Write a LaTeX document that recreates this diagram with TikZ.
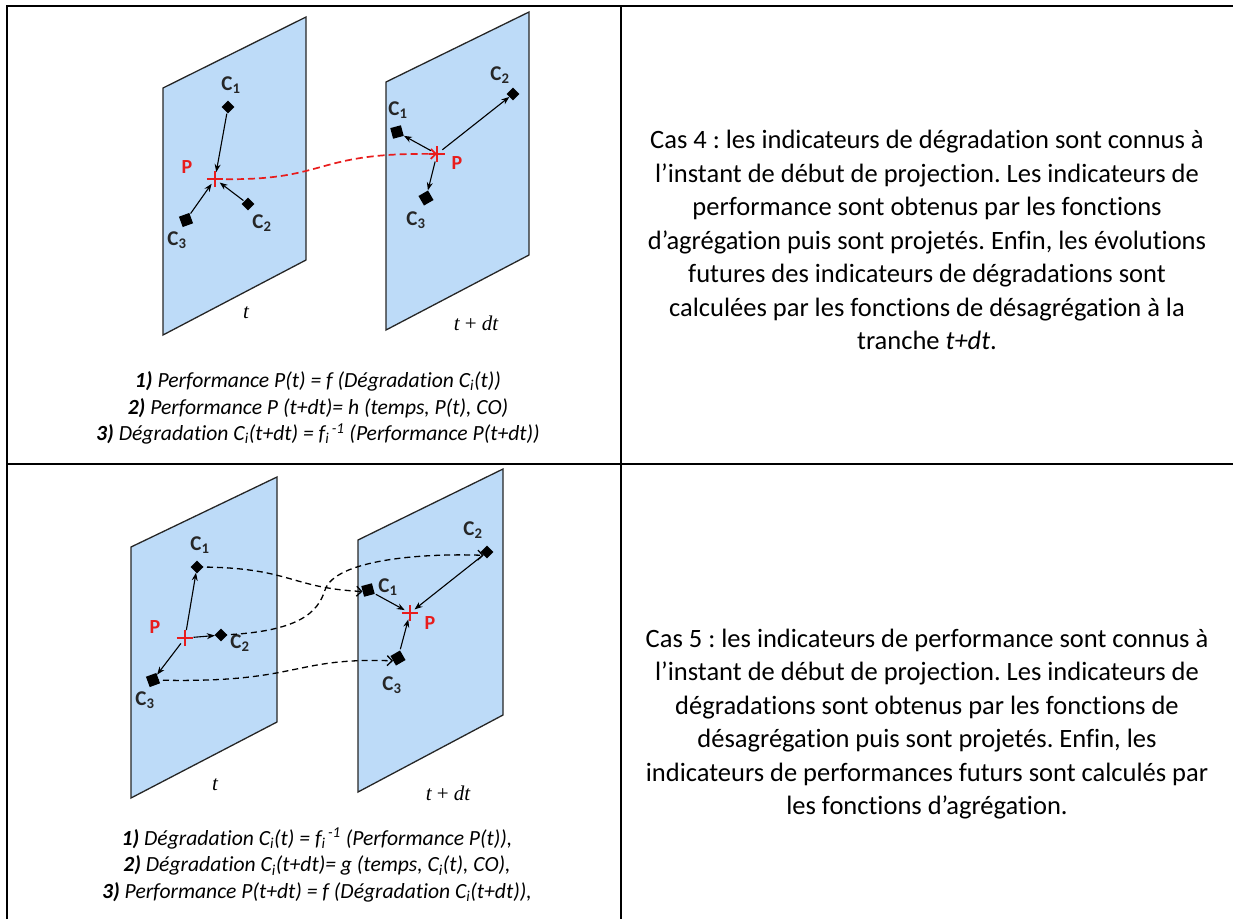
\documentclass[tikz,border=0pt]{standalone}
\usepackage{fontspec}
\setmainfont{Carlito}[Ligatures=NoCommon]
\newfontfamily\tms{Liberation Serif}
\usetikzlibrary{arrows.meta,shapes.misc}
\definecolor{planeblue}{RGB}{189,219,248}
\definecolor{pred}{RGB}{232,28,28}
\newcommand{\Ci}{C\textsubscript{i}}
\newcommand{\fim}{f\textsubscript{i}\textsuperscript{\,-1}}
\newcommand{\Cl}[1]{C\textsubscript{#1}}
\frenchspacing
\begin{document}
\begin{tikzpicture}[x=1pt,y=-1pt,
  plane/.style={fill=planeblue,draw=black!85,line width=1.3pt,line join=miter},
  dia/.style={fill=black,inner sep=0pt,minimum size=9pt,rotate=45},
  sq/.style={fill=black,inner sep=0pt,minimum size=11pt},
  ptc/.style={cross out,draw=pred,line width=1.5pt,minimum size=10pt,inner sep=0pt,rotate=45},
  clab/.style={font=\fontsize{21}{24}\selectfont\bfseries,text=black!85,inner sep=0pt},
  plab/.style={font=\fontsize{20}{24}\selectfont\bfseries,text=pred,inner sep=0pt},
  tlab/.style={font=\fontsize{21}{24}\selectfont\tms\itshape,inner sep=0pt},
  sarr/.style={-{Stealth[length=8pt,width=6pt]},line width=1.1pt,shorten <=1pt},
  darr/.style={-{Straight Barb[length=5pt,width=10pt]},line width=1.3pt,dash pattern=on 6pt off 4pt},
  rarr/.style={darr,draw=pred,line width=1.7pt,dash pattern=on 7pt off 4pt},
  formula/.style={font=\fontsize{21.6}{26.5}\selectfont\itshape,align=center,inner sep=0pt},
  body/.style={font=\fontsize{26.5}{33.5}\selectfont,align=center,inner sep=0pt},
  grid/.style={line width=2pt}
]
\useasboundingbox (0,0) rectangle (1233,919);
% table
\draw[grid] (7,919) -- (7,6) -- (1233,6);
\draw[grid] (7,464) -- (1233,464);
\draw[grid] (621,6) -- (621,919);

% ===== top panel =====
\filldraw[plane] (163,88) -- (306,17) -- (306,260) -- (163,335) -- cycle;
\filldraw[plane] (386,82) -- (529,12) -- (529,255) -- (386,330) -- cycle;

\node[dia] (c1a) at (228,107) {};
\node[dia] (c2a) at (248,204) {};
\node[sq,rotate=20] (c3a) at (186,220) {};
\node[ptc] (pa) at (215,179) {};
\node[clab] (l1a) at (231,85) {\Cl{1}};
\node[clab] (l2a) at (262,223) {\Cl{2}};
\node[clab] (l3a) at (177,240) {\Cl{3}};
\node[plab] (lpa) at (187,167) {P};
\node[tlab] (ta) at (246,313) {t};

\node[dia] (c2b) at (513,94) {};
\node[sq,rotate=15] (c1b) at (397,132) {};
\node[sq,rotate=30] (c3b) at (426,198) {};
\node[ptc] (pb) at (437,154) {};
\node[clab] (l2b) at (500,75) {\Cl{2}};
\node[clab] (l1b) at (398,110) {\Cl{1}};
\node[clab] (l3b) at (416,220) {\Cl{3}};
\node[plab] (lpb) at (457,163) {P};
\node[tlab] (tb) at (476,323) {t {\upshape +} dt};

\draw[sarr] (c1a) -- (pa);
\draw[sarr] (c3a) -- (pa);
\draw[sarr] (c2a) -- (pa);
\draw[sarr] (pb) -- (c2b);
\draw[sarr] (pb) -- (c1b);
\draw[sarr] (pb) -- (c3b);
\draw[rarr] (pa.center) .. controls (330,182) and (310,152) .. (pb.center);

\node[formula] (fa) at (318,408) {{\bfseries 1)} Performance P(t) = f (Dégradation \Ci(t))\\
{\bfseries 2)} Performance P (t+dt)= h (temps, P(t), CO)\\
{\bfseries 3)} Dégradation \Ci(t+dt) = \fim{} (Performance P(t+dt))};

\node[body] (ta1) at (927,240) {Cas 4 : les indicateurs de dégradation sont connus à\\
l’instant de début de projection. Les indicateurs de\\
performance sont obtenus par les fonctions\\
d’agrégation puis sont projetés. Enfin, les évolutions\\
futures des indicateurs de dégradations sont\\
calculées par les fonctions de désagrégation à la\\
tranche \textit{t+dt}.};

% ===== bottom panel =====
\filldraw[plane] (131,547) -- (277,477) -- (277,722) -- (131,798) -- cycle;
\filldraw[plane] (358,540) -- (503,469) -- (503,715) -- (358,792) -- cycle;

\node[dia] (c1c) at (197,567) {};
\node[dia] (c2c) at (221,635) {};
\node[sq,rotate=20] (c3c) at (153,680) {};
\node[ptc] (pc) at (185,638) {};
\node[clab] (l1c) at (200,545) {\Cl{1}};
\node[clab] (l2c) at (240,643) {\Cl{2}};
\node[clab] (l3c) at (145,700) {\Cl{3}};
\node[plab] (lpc) at (155,627) {P};
\node[tlab] (tc) at (215,785) {t};

\node[dia] (c2d) at (487,552) {};
\node[sq,rotate=15] (c1d) at (368,590) {};
\node[sq,rotate=30] (c3d) at (398,658) {};
\node[ptc] (pd) at (410,613) {};
\node[clab] (l2d) at (473,530) {\Cl{2}};
\node[clab] (l1d) at (388,587) {\Cl{1}};
\node[clab] (l3d) at (392,685) {\Cl{3}};
\node[plab] (lpd) at (430,623) {P};
\node[tlab] (td) at (448,793) {t {\upshape +} dt};

\draw[sarr] (pc) -- (c1c);
\draw[sarr] (pc) -- (c2c);
\draw[sarr] (pc) -- (c3c);
\draw[sarr] (c1d) -- (pd);
\draw[sarr] (c2d) -- (pd);
\draw[sarr] (c3d) -- (pd);

\draw[darr] (c1c.center) .. controls (290,567) and (290,588) .. (c1d.west);
\draw[darr] (c2c.center) .. controls (300,632) and (318,612) .. (325,590)
   .. controls (335,560) and (420,553) .. (c2d.west);
\draw[darr] (c3c.center) .. controls (300,684) and (290,657) .. (c3d.west);

\node[formula] (fb) at (317,865) {{\bfseries 1)} Dégradation \Ci(t) = \fim{} (Performance P(t)),\\
{\bfseries 2)} Dégradation \Ci(t+dt)= g (temps, \Ci(t), CO),\\
{\bfseries 3)} Performance P(t+dt) = f (Dégradation \Ci(t+dt)),};

\node[body] (tb1) at (927,724) {Cas 5 : les indicateurs de performance sont connus à\\
l’instant de début de projection. Les indicateurs de\\
dégradations sont obtenus par les fonctions de\\
désagrégation puis sont projetés. Enfin, les\\
indicateurs de performances futurs sont calculés par\\
les fonctions d’agrégation.};
\end{tikzpicture}
\end{document}
